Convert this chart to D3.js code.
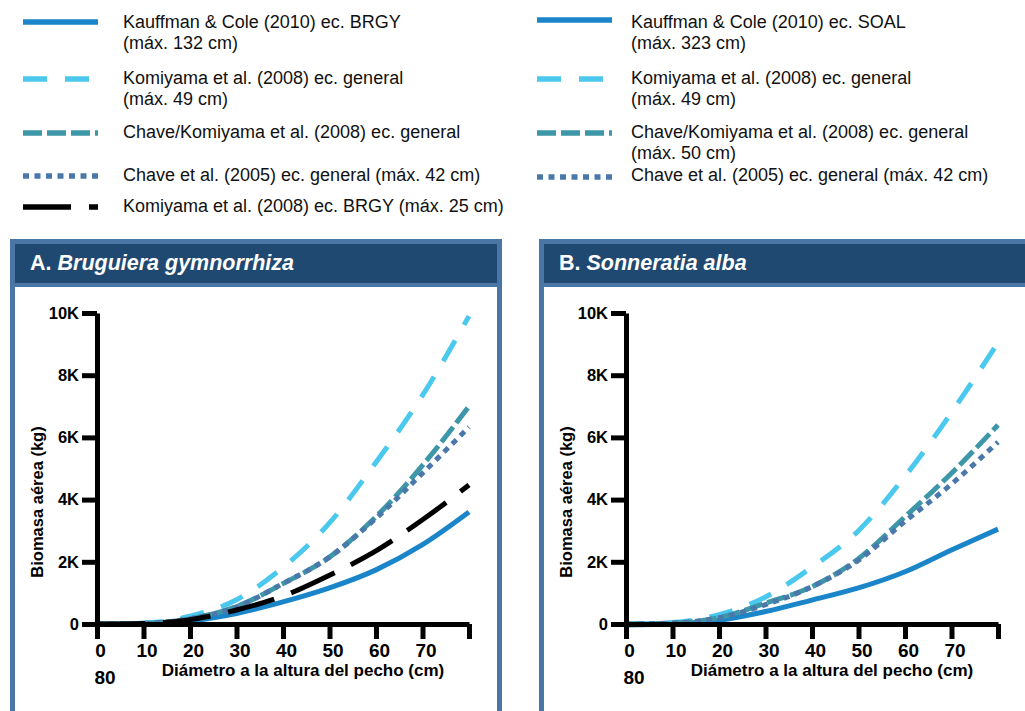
<!doctype html>
<html>
<head>
<meta charset="utf-8">
<script src="https://cdn.jsdelivr.net/npm/d3@7"></script>
<style>
  body { margin: 0; background: #fff; }
  svg { display: block; font-family: "Liberation Sans", Arial, sans-serif; }
</style>
</head>
<body>
<svg id="chart" width="1025" height="711"></svg>
<script>
// diameter at breast height (cm)
var dbh = [0, 10, 20, 30, 40, 50, 60, 70, 80];

// A. Bruguiera gymnorrhiza, biomass (kg)
var kauffmanA  = [-20, 10, 100, 340, 710, 1160, 1740, 2550, 3600];
var komiyamaA  = [0, 30, 250, 780, 1820, 3250, 5200, 7350, 9900];
var chaveKomA  = [0, 20, 170, 560, 1300, 2150, 3450, 5100, 7000];
var chaveA     = [0, 20, 170, 550, 1300, 2150, 3400, 4850, 6330];
var komBrgyA   = [0, 15, 140, 450, 900, 1570, 2350, 3350, 4470];

// B. Sonneratia alba, biomass (kg)
var kauffmanB  = [-30, 0, 120, 400, 770, 1160, 1680, 2380, 3050];
var komiyamaB  = [0, 50, 300, 870, 1830, 3000, 4750, 6800, 9050];
var chaveKomB  = [0, 30, 200, 670, 1200, 2100, 3450, 4850, 6400];
var chaveB     = [0, 30, 200, 620, 1200, 2050, 3300, 4500, 5850];

var yTicks = [0, 2000, 4000, 6000, 8000, 10000];
var xTicks = [0, 10, 20, 30, 40, 50, 60, 70, 80];

var legendLeft = [
  ["Kauffman & Cole (2010) ec. BRGY", "(máx. 132 cm)"],
  ["Komiyama et al. (2008) ec. general", "(máx. 49 cm)"],
  ["Chave/Komiyama et al. (2008) ec. general"],
  ["Chave et al. (2005) ec. general (máx. 42 cm)"],
  ["Komiyama et al. (2008) ec. BRGY (máx. 25 cm)"]
];
var legendRight = [
  ["Kauffman & Cole (2010) ec. SOAL", "(máx. 323 cm)"],
  ["Komiyama et al. (2008) ec. general", "(máx. 49 cm)"],
  ["Chave/Komiyama et al. (2008) ec. general", "(máx. 50 cm)"],
  ["Chave et al. (2005) ec. general (máx. 42 cm)"]
];

// line styles
var styles = {
  kauffman: { color: "#1a85c8", dash: null },
  komiyama: { color: "#4bc8ee", dash: "24,18" },
  chaveKom: { color: "#3d97a9", dash: "19,5" },
  chave:    { color: "#4a78ab", dash: "6,5.5" },
  komBrgy:  { color: "#000000", dash: "48,18" }
};
var legendStyleLeft = ["kauffman", "komiyama", "chaveKom", "chave", "komBrgy"];
var legendStyleRight = ["kauffman", "komiyama", "chaveKom", "chave"];

var svg = d3.select("#chart");

// ---- legend ----
function drawLegend(items, keys, x0, tx, rowY) {
  items.forEach(function (lines, i) {
    var st = styles[keys[i]];
    svg.append("line")
      .attr("x1", x0).attr("x2", x0 + 75)
      .attr("y1", rowY[i].swatch).attr("y2", rowY[i].swatch)
      .attr("stroke", st.color).attr("stroke-width", 5.5)
      .attr("stroke-dasharray", st.dash);
    lines.forEach(function (t, j) {
      svg.append("text")
        .attr("x", tx).attr("y", rowY[i].text + j * 21.5 + 6.5)
        .attr("font-size", 18).attr("fill", "#111")
        .text(t);
    });
  });
}
drawLegend(legendLeft, legendStyleLeft, 23, 123, [
  { swatch: 22, text: 21 }, { swatch: 79, text: 77 }, { swatch: 133, text: 131 },
  { swatch: 176, text: 174 }, { swatch: 207, text: 205 }
]);
drawLegend(legendRight, legendStyleRight, 537, 631, [
  { swatch: 20, text: 21 }, { swatch: 79, text: 77 }, { swatch: 133, text: 131 },
  { swatch: 177, text: 174 }
]);

// ---- panels ----
function panel(px, title, italic, series) {
  var g = svg.append("g").attr("transform", "translate(" + px + ",0)");
  g.append("rect").attr("x", 0).attr("y", 239).attr("width", 492).attr("height", 490)
    .attr("fill", "#4a76a6");
  g.append("rect").attr("x", 5).attr("y", 244).attr("width", 482).attr("height", 39)
    .attr("fill", "#1f4971");
  g.append("rect").attr("x", 5).attr("y", 287).attr("width", 482).attr("height", 440)
    .attr("fill", "#fff");
  var tt = g.append("text").attr("x", 20).attr("y", 270)
    .attr("fill", "#fff").attr("font-size", 21.5).attr("font-weight", "bold");
  tt.append("tspan").text(title + " ");
  tt.append("tspan").attr("font-style", "italic").text(italic);

  var x = d3.scaleLinear().domain([0, 80]).range([87, 459]);
  var y = d3.scaleLinear().domain([0, 10000]).range([624, 313]);

  var line = d3.line()
    .x(function (d, i) { return x(dbh[i]); })
    .y(function (d) { return y(d); })
    .curve(d3.curveMonotoneX);

  series.forEach(function (s) {
    var st = styles[s.key];
    g.append("path").datum(s.values)
      .attr("d", line)
      .attr("fill", "none")
      .attr("stroke", st.color)
      .attr("stroke-width", 5)
      .attr("stroke-dasharray", st.dash);
  });

  var xAxis = d3.axisBottom(x).tickValues(xTicks).tickSize(15).tickSizeOuter(0).tickPadding(5)
    .tickFormat(function (d) { return d === 80 ? "" : d; });
  var gx = g.append("g").attr("transform", "translate(0," + y(0) + ")").call(xAxis);

  var yAxis = d3.axisLeft(y).tickValues(yTicks).tickSize(15).tickSizeOuter(0).tickPadding(3)
    .tickFormat(function (d) { return d === 0 ? "0" : (d / 1000) + "K"; });
  var gy = g.append("g").attr("transform", "translate(" + x(0) + ",0)").call(yAxis);

  [gx, gy].forEach(function (a) {
    a.select(".domain").attr("stroke", "#000").attr("stroke-width", 5);
    a.selectAll(".tick line").attr("stroke", "#000").attr("stroke-width", 5);
    a.selectAll("text").attr("font-weight", "bold")
      .attr("fill", "#000").attr("font-family", "Liberation Sans, Arial, sans-serif");
  });
  gx.selectAll("text").attr("font-size", 19).attr("dx", 3);
  gy.selectAll("text").attr("font-size", 16.5);

  // wrapped last tick label
  g.append("text").attr("x", x(0) + 8).attr("y", 684)
    .attr("text-anchor", "middle").attr("font-size", 19).attr("font-weight", "bold")
    .text(xTicks[xTicks.length - 1]);

  g.append("text").attr("x", 293).attr("y", 676)
    .attr("text-anchor", "middle").attr("font-size", 17).attr("font-weight", "bold")
    .text("Diámetro a la altura del pecho (cm)");

  g.append("text")
    .attr("transform", "translate(33,502) rotate(-90)")
    .attr("text-anchor", "middle").attr("font-size", 16.5).attr("font-weight", "bold")
    .text("Biomasa aérea (kg)");
}

panel(10, "A.", "Bruguiera gymnorrhiza", [
  { key: "kauffman", values: kauffmanA },
  { key: "komiyama", values: komiyamaA },
  { key: "chaveKom", values: chaveKomA },
  { key: "chave", values: chaveA },
  { key: "komBrgy", values: komBrgyA }
]);
panel(539, "B.", "Sonneratia alba", [
  { key: "kauffman", values: kauffmanB },
  { key: "komiyama", values: komiyamaB },
  { key: "chaveKom", values: chaveKomB },
  { key: "chave", values: chaveB }
]);
</script>
</body>
</html>
